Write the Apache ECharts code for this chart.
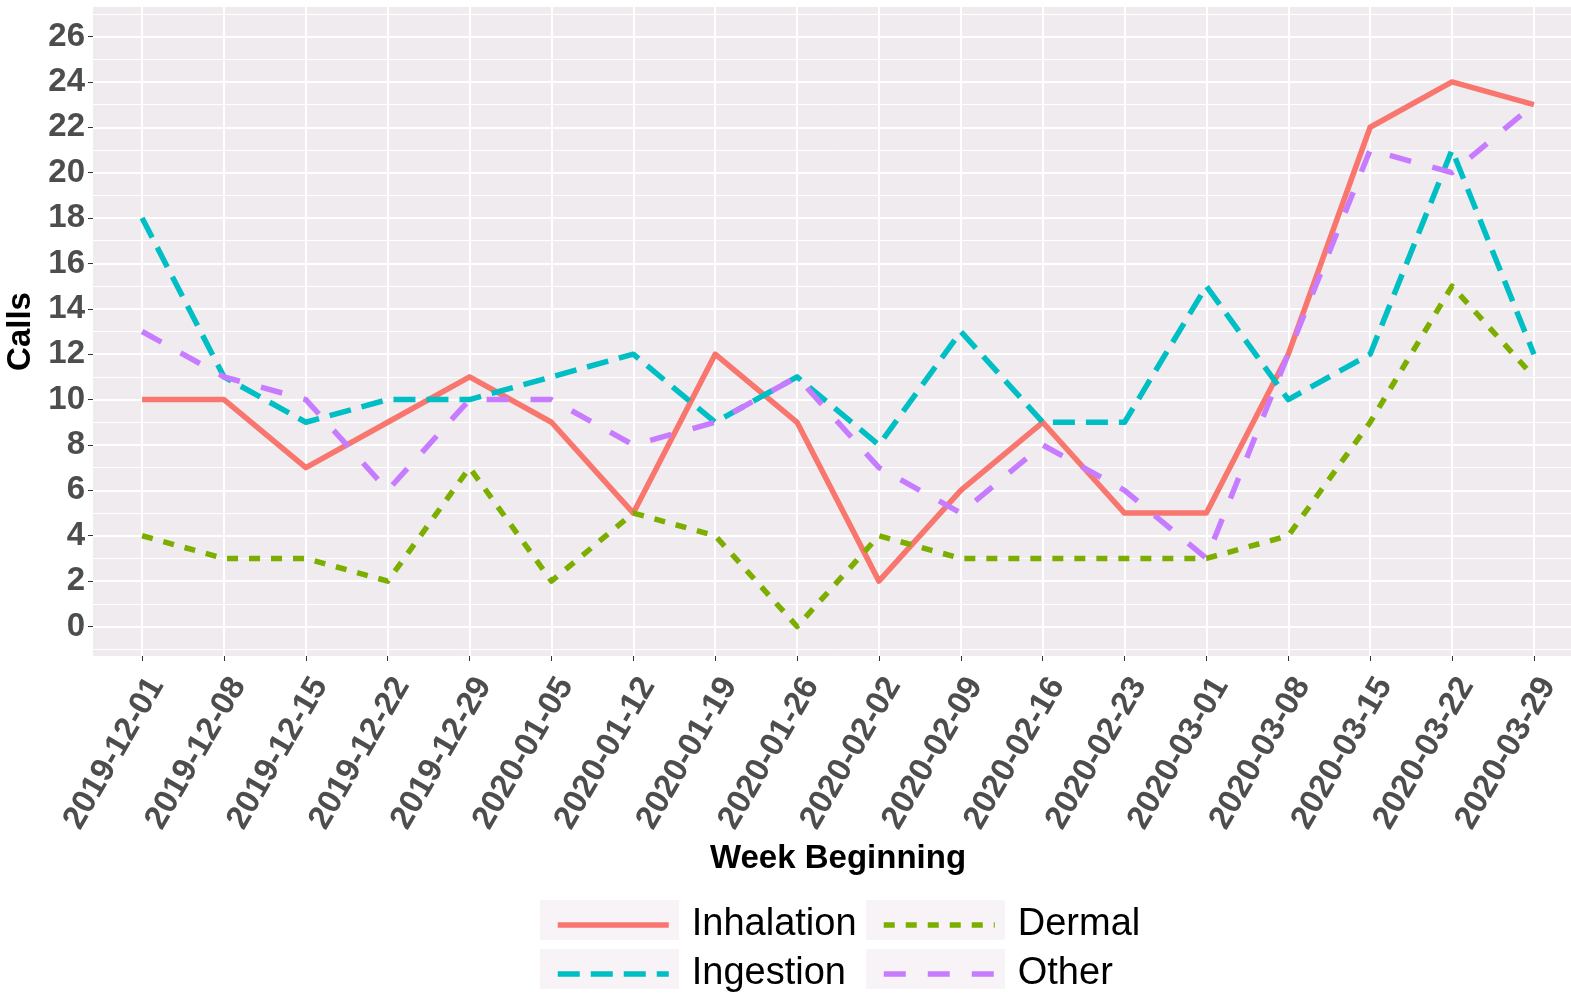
<!DOCTYPE html>
<html><head><meta charset="utf-8">
<script src="https://cdn.jsdelivr.net/npm/echarts@6/dist/echarts.min.js"></script>
<style>html,body{margin:0;padding:0;background:#fff}#c{width:1571px;height:993px}</style>
</head><body><div id="c"></div>
<script>
const weeks = ['2019-12-01','2019-12-08','2019-12-15','2019-12-22','2019-12-29','2020-01-05','2020-01-12','2020-01-19','2020-01-26','2020-02-02','2020-02-09','2020-02-16','2020-02-23','2020-03-01','2020-03-08','2020-03-15','2020-03-22','2020-03-29'];
const inhalation = [10,10,7,9,11,9,5,12,9,2,6,9,5,5,12,22,24,23];
const dermal     = [4,3,3,2,7,2,5,4,0,4,3,3,3,3,4,9,15,11];
const ingestion  = [18,11,9,10,10,11,12,9,11,8,13,9,9,15,10,12,21,12];
const other      = [13,11,10,6,10,10,8,9,11,7,5,8,6,3,12,21,20,23];
const yTicks = [0,2,4,6,8,10,12,14,16,18,20,22,24,26];
const yMinor = [-1,1,3,5,7,9,11,13,15,17,19,21,23,25,27];
const xIdx = weeks.map((w,i)=>i);

const FONT = "'Liberation Sans', Arial, sans-serif";
const seriesDefs = [
  {name:'Inhalation', data:inhalation, color:'#F8766D', type:'solid'},
  {name:'Dermal', data:dermal, color:'#7CAE00', type:[11,11]},
  {name:'Ingestion', data:ingestion, color:'#00BFC4', type:[22,11]},
  {name:'Other', data:other, color:'#C77CFF', type:[22,22]}
];

const chart = echarts.init(document.getElementById('c'), null, {renderer:'canvas'});
const legendPos = {
  'Inhalation':[555,906], 'Dermal':[881,906], 'Ingestion':[555,955], 'Other':[881,955]
};
const keyBg = '#F7F3F7';
const option = {
  backgroundColor:'#ffffff',
  animation:false,
  textStyle:{fontFamily:FONT},
  grid:{left:93, top:7, width:1490, height:649, show:true, backgroundColor:'#EFEBEF', borderWidth:0,
        outerBoundsMode:'none', containLabel:false},
  xAxis:{
    type:'value', min:-0.6, max:17.6,
    axisLine:{show:false, onZero:false},
    axisTick:{show:true, length:5, lineStyle:{color:'#333', width:1}, customValues:xIdx},
    axisLabel:{customValues:xIdx, formatter:v=>weeks[Math.round(v)], rotate:60, margin:16,
      verticalAlign:'top', fontSize:33, fontWeight:'bold', color:'#4D4D4D', fontFamily:FONT},
    splitLine:{show:true, lineStyle:{color:'#ffffff', width:2}},
    name:'Week Beginning', nameLocation:'middle', nameGap:178,
    nameTextStyle:{fontSize:33, fontWeight:'bold', color:'#000', fontFamily:FONT}
  },
  yAxis:[{
    type:'value', min:-1.3, max:27.3,
    axisLine:{show:false, onZero:false},
    axisTick:{show:true, length:5, lineStyle:{color:'#333', width:1}, customValues:yTicks},
    axisLabel:{customValues:yTicks, margin:8, fontSize:33, fontWeight:'bold', color:'#4D4D4D', fontFamily:FONT},
    splitLine:{show:true, lineStyle:{color:'#ffffff', width:2}},
    name:'Calls', nameLocation:'middle', nameRotate:90, nameGap:50,
    nameTextStyle:{fontSize:33, fontWeight:'bold', color:'#000', fontFamily:FONT}
  },{
    type:'value', min:-1.3, max:27.3, position:'left',
    axisLine:{show:false, onZero:false},
    axisTick:{show:false, customValues:yMinor},
    axisLabel:{show:false, customValues:yMinor},
    splitLine:{show:true, lineStyle:{color:'#ffffff', width:1}}
  }],
  legend: seriesDefs.map(s=>({
    data:[s.name], left:legendPos[s.name][0], top:legendPos[s.name][1], padding:0,
    itemWidth:111, itemHeight:32, itemGap:0,
    lineStyle:{width:5.5},
    itemStyle:{color:'rgba(0,0,0,0)', borderWidth:0, opacity:0},
    textStyle:{fontSize:38, color:'#000', fontFamily:FONT, padding:[0,0,0,18]},
    selectedMode:false
  })),
  graphic:[
    {type:'rect', z:-1, shape:{x:540,y:900,width:139,height:40}, style:{fill:keyBg}},
    {type:'rect', z:-1, shape:{x:866,y:900,width:139,height:40}, style:{fill:keyBg}},
    {type:'rect', z:-1, shape:{x:540,y:949,width:139,height:40}, style:{fill:keyBg}},
    {type:'rect', z:-1, shape:{x:866,y:949,width:139,height:40}, style:{fill:keyBg}}
  ],
  series: seriesDefs.map(s=>({
    name:s.name, type:'line', symbol:'none', xAxisIndex:0, yAxisIndex:0,
    data:s.data.map((v,i)=>[xIdx[i], v]),
    color:s.color,
    lineStyle:{color:s.color, width:5.5, type:s.type, cap:'butt', join:'round'},
    clip:false
  }))
};
chart.setOption(option);
</script></body></html>
